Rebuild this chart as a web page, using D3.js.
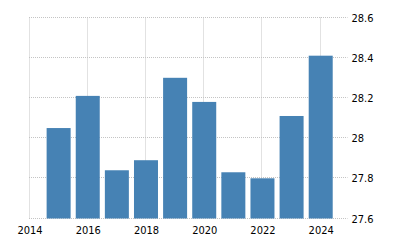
<!DOCTYPE html>
<html><head><meta charset="utf-8">
<script src="https://cdn.jsdelivr.net/npm/d3@7"></script>
<style>body{margin:0;background:#fff}svg{display:block}</style>
</head><body>
<script>
const years = [2015,2016,2017,2018,2019,2020,2021,2022,2023,2024];
const values = [28.05,28.21,27.84,27.89,28.30,28.18,27.83,27.80,28.11,28.41];
const xTicks = [2014,2016,2018,2020,2022,2024];
const yTicks = [27.6,27.8,28,28.2,28.4,28.6];

const W=400,H=250;
const svg=d3.select("body").append("svg").attr("width",W).attr("height",H);
const x=d3.scaleLinear().domain([2014,2024.92]).range([29.5,347.5]);
const y=d3.scaleLinear().domain([27.6,28.6]).range([218.5,17.5]);
const font="'DejaVu Sans Condensed', 'DejaVu Sans', sans-serif";

const grid=svg.append("g").attr("stroke","#c4c4c4").attr("stroke-width",1).attr("stroke-dasharray","1,1");
grid.selectAll("line.h").data(yTicks).join("line").attr("class","h")
  .attr("x1",x.range()[0]-0.5).attr("x2",x.range()[1]).attr("y1",d=>Math.round(y(d))-0.5).attr("y2",d=>Math.round(y(d))-0.5);
grid.selectAll("line.v").data(xTicks).join("line").attr("class","v")
  .attr("x1",d=>Math.round(x(d))-0.5).attr("x2",d=>Math.round(x(d))-0.5).attr("y1",y.range()[1]).attr("y2",y.range()[0]);

const bw=24;
svg.append("g").selectAll("rect").data(years).join("rect")
  .attr("x",(d)=>x(d)-bw/2).attr("width",bw)
  .attr("y",(d,i)=>y(values[i])).attr("height",(d,i)=>y(27.6)-y(values[i]))
  .attr("fill","#4682b4");

const xa=d3.axisBottom(x).tickValues(xTicks).tickFormat(d3.format("d")).tickSize(0).tickPadding(8);
const gx=svg.append("g").attr("transform",`translate(0,${y.range()[0]})`).call(xa);
gx.select(".domain").remove();
gx.selectAll("text").attr("font-family",font).attr("font-size",11).attr("fill","#000");

const ya=d3.axisRight(y).tickValues(yTicks).tickFormat(d=>String(+d.toFixed(1))).tickSize(0).tickPadding(4);
const gy=svg.append("g").attr("transform",`translate(${x.range()[1]},0)`).call(ya);
gy.select(".domain").remove();
gy.selectAll("text").attr("font-family",font).attr("font-size",11).attr("fill","#000");
</script>
</body></html>
